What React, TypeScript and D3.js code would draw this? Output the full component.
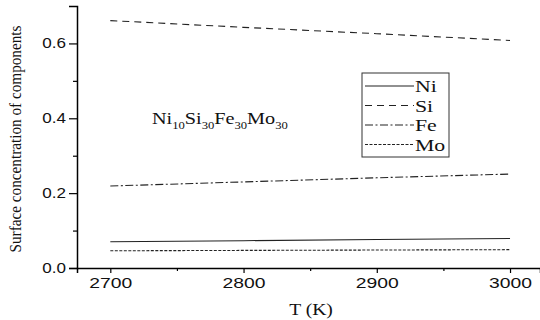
import * as d3 from "d3";
import { useRef, useEffect } from "react";

// temperatures (K)
const temps = [2700, 2800, 2900, 3000];

// surface concentration of each component
const ni = [0.070, 0.073, 0.076, 0.079];
const si = [0.661, 0.643, 0.626, 0.608];
const fe = [0.219, 0.230, 0.241, 0.251];
const mo = [0.046, 0.047, 0.048, 0.049];

const seriesNames = ["Ni", "Si", "Fe", "Mo"];
const seriesValues = [ni, si, fe, mo];
const dashes = ["none", "7,5", "8,2.5,2,2.5", "3,1.5"];

const yTicks = [0.0, 0.2, 0.4, 0.6];
const xTicks = [2700, 2800, 2900, 3000];

const SERIF = "'Liberation Serif', 'Times New Roman', serif";
const SANS = "'Liberation Sans', Arial, sans-serif";

export default function App() {
  const svgRef = useRef<SVGSVGElement>(null);

  useEffect(() => {
    const svg = d3.select(svgRef.current);
    svg.selectAll("*").remove();

    const left = 77, right = 540, top = 6, bottom = 268;

    const x = d3.scaleLinear().domain([2675, 3022.5]).range([left, right]);
    const y = d3.scaleLinear().domain([0, 0.7]).range([bottom, top]);

    // the original figure is stretched horizontally, so texts are widened
    const widen = (sel: any, k: number) => sel.each(function (this: SVGTextElement) {
      const w = this.getComputedTextLength();
      d3.select(this).attr("textLength", w * k).attr("lengthAdjust", "spacingAndGlyphs");
    });

    // y axis with minor ticks
    const yAxis = svg.append("g").attr("transform", `translate(${left},0)`)
      .call(d3.axisLeft(y).tickValues(yTicks).tickFormat(d3.format(".1f")).tickSizeOuter(0).tickSize(8).tickPadding(3));
    yAxis.selectAll("text").style("font-family", SANS).style("font-size", "14px").attr("fill", "#111");
    widen(yAxis.selectAll("text"), 1.22);
    svg.append("g").attr("transform", `translate(${left},0)`)
      .call(d3.axisLeft(y).tickValues([0.1, 0.3, 0.5]).tickFormat(() => "").tickSizeOuter(0).tickSize(4))
      .select(".domain").remove();

    // x axis with minor ticks
    const xAxis = svg.append("g").attr("transform", `translate(0,${bottom})`)
      .call(d3.axisBottom(x).tickValues(xTicks).tickFormat(d3.format("d")).tickSizeOuter(0).tickSize(5).tickPadding(5));
    xAxis.selectAll("text").style("font-family", SANS).style("font-size", "14px").attr("fill", "#111");
    widen(xAxis.selectAll("text"), 1.38);
    svg.append("g").attr("transform", `translate(0,${bottom})`)
      .call(d3.axisBottom(x).tickValues([2750, 2850, 2950]).tickFormat(() => "").tickSizeOuter(0).tickSize(3))
      .select(".domain").remove();

    svg.selectAll(".domain").attr("stroke-width", 1.5);
    svg.selectAll(".tick line").attr("stroke-width", 1.2);

    // series lines
    const line = d3.line<number>().x((_, i) => x(temps[i])).y(d => y(d));
    seriesValues.forEach((vals, i) => {
      svg.append("path").datum(vals).attr("d", line).attr("fill", "none")
        .attr("stroke", "#222").attr("stroke-width", 1.1)
        .attr("stroke-dasharray", dashes[i]);
    });

    // legend box
    const lg = svg.append("g").attr("transform", "translate(362,73)");
    lg.append("rect").attr("width", 87).attr("height", 84).attr("fill", "white").attr("stroke", "#333").attr("stroke-width", 1);
    seriesNames.forEach((name, i) => {
      const base = 19 + i * 19.5;
      lg.append("line").attr("x1", 3).attr("x2", 52).attr("y1", base - 6).attr("y2", base - 6)
        .attr("stroke", "#222").attr("stroke-width", 1.1).attr("stroke-dasharray", dashes[i]);
      const t = lg.append("text").attr("x", 53).attr("y", base).text(name)
        .style("font-family", SERIF).style("font-size", "16.5px").attr("fill", "#111");
      widen(t, 1.32);
    });

    // composition label with subscripts
    const compG = svg.append("g");
    const comp = compG.append("text").attr("x", 152).attr("y", 124)
      .style("font-family", SERIF).style("font-size", "16px").attr("fill", "#111");
    [["Ni", "10"], ["Si", "30"], ["Fe", "30"], ["Mo", "30"]].forEach(([el, n], i) => {
      comp.append("tspan").text(el).attr("dy", i === 0 ? 0 : -5);
      comp.append("tspan").text(n).attr("dy", 5).style("font-size", "10px");
    });
    const cw = (comp.node() as SVGTextElement).getBBox().width;
    const ck = 136 / cw;
    compG.attr("transform", `translate(152,0) scale(${ck},1) translate(-152,0)`);

    // axis titles
    const tx = svg.append("text").attr("x", 311).attr("y", 315).attr("text-anchor", "middle").text("T (K)")
      .style("font-family", SERIF).style("font-size", "17px").attr("fill", "#111");
    widen(tx, 1.15);
    svg.append("text").attr("transform", "translate(21,139) rotate(-90)").attr("text-anchor", "middle")
      .text("Surface concentration of components")
      .style("font-family", SERIF).style("font-size", "16px").attr("fill", "#111")
      .attr("textLength", 227).attr("lengthAdjust", "spacingAndGlyphs");
  }, []);

  return (
    <svg ref={svgRef} width={540} height={320}
      style={{ position: "absolute", left: 0, top: 0, background: "white" }} />
  );
}
